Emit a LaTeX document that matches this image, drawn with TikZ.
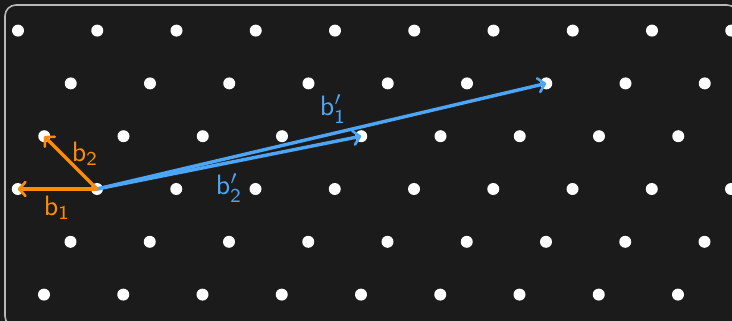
\documentclass[tikz,border=0pt]{standalone}
\usetikzlibrary{arrows.meta}
\definecolor{bg}{HTML}{1B1B1B}
\definecolor{frame}{HTML}{B8B8B8}
\definecolor{orng}{HTML}{FF8C00}
\definecolor{blu}{HTML}{4DA6F5}
\newcommand{\biglbl}[1]{\scalebox{2.8}{$#1$}}
\tikzset{
  dot/.style={circle,fill=white,inner sep=0pt,minimum size=12pt},
  vec/.style={line width=3.4pt,-{Straight Barb[length=6.5pt,width=14pt,line width=2.6pt,round]}},
  lbl/.style={inner sep=0pt,font=\sffamily},
}
\begin{document}
\begin{tikzpicture}[x=1pt,y=-1pt]
\useasboundingbox (0,0) rectangle (732,321);
\fill[bg] (0,0) rectangle (732,321);
\begin{scope}
\clip (0,0) rectangle (732,321);
\draw[frame,line width=1.6pt,rounded corners=11pt] (5,5) rectangle (738,327);
\foreach \i in {-3,...,11}{
  \foreach \j in {-3,...,3}{
    \pgfmathsetmacro{\px}{97+79.25*\i-52.75*\j}
    \pgfmathsetmacro{\py}{189-52.8*\j}
    \node[dot] (d\i\j) at (\px,\py) {};
  }
}
\end{scope}
\coordinate (o) at (97,189);
\coordinate (e1) at (d-10);
\coordinate (e2) at (d01);
\coordinate (f1) at (d72);
\coordinate (f2) at (d41);
\draw[vec,blu] (o) -- (f1);
\draw[vec,blu] (o) -- (f2);
\draw[vec,orng] (o) -- (e1);
\draw[vec,orng] (o) -- (e2);
\node[lbl,orng] (l1) at (57,208) {\biglbl{\mathsf{b}_{\mathsf{1}}}};
\node[lbl,orng] (l2) at (85,154) {\biglbl{\mathsf{b}_{\mathsf{2}}}};
\node[lbl,blu] (l3) at (333,109) {\biglbl{\mathsf{b}'_{\mathsf{1}}}};
\node[lbl,blu] (l4) at (229,188) {\biglbl{\mathsf{b}'_{\mathsf{2}}}};
\end{tikzpicture}
\end{document}
